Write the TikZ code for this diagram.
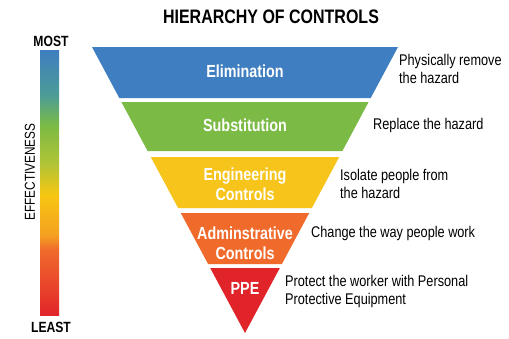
\documentclass[tikz,border=0pt]{standalone}
\usepackage{fontspec}
\setmainfont{Liberation Sans}[FakeStretch=0.82]
\definecolor{cblue}{HTML}{3F7EC0}
\definecolor{cteal}{HTML}{4C9C96}
\definecolor{cgreen}{HTML}{7BBA45}
\definecolor{cyg}{HTML}{B3C435}
\definecolor{cyellow}{HTML}{F7C612}
\definecolor{corangey}{HTML}{F5A021}
\definecolor{corange}{HTML}{F06A2C}
\definecolor{cred}{HTML}{E2262A}
\definecolor{bandblue}{HTML}{3F7EC0}
\definecolor{bandgreen}{HTML}{7BBA45}
\definecolor{bandyellow}{HTML}{F6C41A}
\definecolor{bandorange}{HTML}{F06A2C}
\definecolor{bandred}{HTML}{E0242A}
\pgfdeclareverticalshading{effbar}{100bp}{color(0bp)=(cred); color(25bp)=(cred); color(37.3bp)=(corange); color(40bp)=(corangey); color(47.6bp)=(cyellow); color(53.3bp)=(cyg); color(60.8bp)=(cgreen); color(66.5bp)=(cteal); color(75bp)=(cblue); color(100bp)=(cblue)}
\begin{document}
\begin{tikzpicture}[x=1pt,y=-1pt,
  bandlabel/.style={text=white,font=\bfseries\fontsize{17.5}{19.5}\selectfont,align=center,inner sep=0pt},
  desc/.style={anchor=west,font=\fontsize{15.5}{18}\selectfont,align=left,inner sep=0pt},
  endlabel/.style={font=\bfseries\fontsize{14.8}{17}\selectfont,inner sep=0pt}]
\useasboundingbox[fill=white] (0,0) rectangle (509,338);
% title
\node[font=\bfseries\fontsize{19.5}{22}\selectfont,inner sep=0pt] (title) at (271,17) {HIERARCHY OF CONTROLS};
% effectiveness bar
\shade[shading=effbar] (40,50) rectangle (59,315);
\node[endlabel] (most) at (51,41) {MOST};
\node[endlabel] (least) at (51,327) {LEAST};
\node[font=\fontsize{14.4}{17}\selectfont,inner sep=0pt,rotate=90] (eff) at (30,172) {EFFECTIVENESS};
% funnel bands
\fill[bandblue] (92,47) -- (398,47) -- (370.7,98) -- (119.3,98) -- cycle;
\fill[bandgreen] (121.4,102) -- (368.6,102) -- (342.4,151) -- (147.6,151) -- cycle;
\fill[bandyellow] (150.8,157) -- (339.2,157) -- (311.9,208) -- (178.1,208) -- cycle;
\fill[bandorange] (180.8,213) -- (309.2,213) -- (281.9,264) -- (208.1,264) -- cycle;
\fill[bandred] (210.2,268) -- (279.8,268) -- (245,333) -- cycle;
% band labels
\node[bandlabel] (elim) at (245,71) {Elimination};
\node[bandlabel] (subst) at (245,125) {Substitution};
\node[bandlabel] (eng) at (245,184) {Engineering\\Controls};
\node[bandlabel] (adm) at (245,243) {Adminstrative\\Controls};
\node[bandlabel] (ppe) at (245,288) {PPE};
% descriptions
\node[desc] (d1) at (399,69) {Physically remove\\the hazard};
\node[desc] (d2) at (373,125) {Replace the hazard};
\node[desc] (d3) at (340,184) {Isolate people from\\the hazard};
\node[desc] (d4) at (311,233) {Change the way people work};
\node[desc] (d5) at (285,291) {Protect the worker with Personal\\Protective Equipment};
\end{tikzpicture}
\end{document}
